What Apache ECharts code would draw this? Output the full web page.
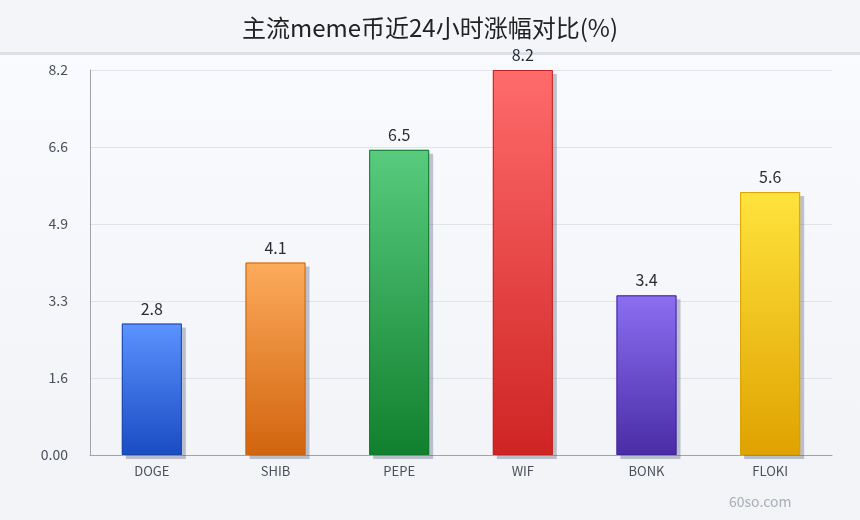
<!DOCTYPE html>
<html><head><meta charset="utf-8">
<script src="https://cdn.jsdelivr.net/npm/echarts@6/dist/echarts.min.js"></script>
<style>html,body{margin:0;padding:0;}#c{width:860px;height:520px;}</style>
</head><body><div id="c"></div>
<script>
const categories = ['DOGE','SHIB','PEPE','WIF','BONK','FLOKI'];
const values = [2.8, 4.1, 6.5, 8.2, 3.4, 5.6];
const topColors = ['#5b93ff','#fcab5c','#58cb7e','#ff6b6b','#8c6ff2','#ffe33c'];
const bottomColors = ['#1a4cc2','#d2640e','#11802e','#cf2424','#4a2ca6','#e0a200'];
const borderColors = ['#1a46b0','#c96510','#137a30','#c42222','#3f279a','#d6a000'];
const yTickLabels = ['0.00','1.6','3.3','4.9','6.6','8.2'];

const chart = echarts.init(document.getElementById('c'));
const fillData = values.map((v,i)=>({
  value: v,
  itemStyle: {
    color: new echarts.graphic.LinearGradient(0,0,0,1,[{offset:0,color:topColors[i]},{offset:1,color:bottomColors[i]}]),
    borderWidth: 0,
    shadowColor: 'rgba(80,90,120,0.35)', shadowOffsetX: 4, shadowOffsetY: 4, shadowBlur: 0
  }
}));
const borderData = values.map((v,i)=>({
  value: v,
  itemStyle: { color: 'rgba(0,0,0,0)', borderColor: borderColors[i], borderWidth: 1 }
}));
chart.setOption({
  backgroundColor: new echarts.graphic.LinearGradient(0,0,0,1,[{offset:0,color:'#fafbfe'},{offset:1,color:'#f1f3f7'}]),
  graphic: [
    {type:'rect', left:0, top:0, shape:{width:860,height:52}, style:{fill:'#f4f5f9'}, z:-1},
    {type:'rect', left:0, top:52, shape:{width:860,height:3}, style:{fill:'#dde0e8'}, z:-1},
    {type:'text', left:729, top:495, style:{text:'60so.com', fill:'#a9adb8', font:'14px "Noto Sans CJK SC"'}}
  ],
  title: {
    text: '主流meme币近24小时涨幅对比(%)', left: 'center', top: 11,
    textStyle: {fontFamily:'Noto Sans CJK SC', fontSize: 24, fontWeight: 'normal', color: '#222'}
  },
  grid: {left: 90, right: 28, top: 70, bottom: 65},
  xAxis: {
    type: 'category', data: categories,
    axisLine: {lineStyle: {color: '#9ea3ad'}},
    axisTick: {show: false},
    axisLabel: {color: '#4a4f5a', fontSize: 13, fontFamily: 'Noto Sans CJK SC', margin: 10}
  },
  yAxis: {
    type: 'value', min: 0, max: 8.2, interval: 1.64,
    axisLine: {show: true, lineStyle: {color: '#9ea3ad'}},
    axisTick: {show: false},
    splitLine: {lineStyle: {color: '#e0e3ea'}},
    axisLabel: {color: '#4a4f5a', fontSize: 14, fontFamily: 'Noto Sans CJK SC', margin: 22,
      formatter: (v)=>{ const i = Math.round(v/1.64); return yTickLabels[i] !== undefined ? yTickLabels[i] : v; }}
  },
  series: [
    { type: 'bar', data: fillData, barWidth: 60, z: 2 },
    { type: 'bar', data: borderData, barWidth: 60, barGap: '-100%', z: 3,
      label: {show: true, position: 'top', color: '#2a2d35', fontSize: 16, fontFamily: 'Noto Sans CJK SC', distance: 7} }
  ]
});
</script></body></html>
